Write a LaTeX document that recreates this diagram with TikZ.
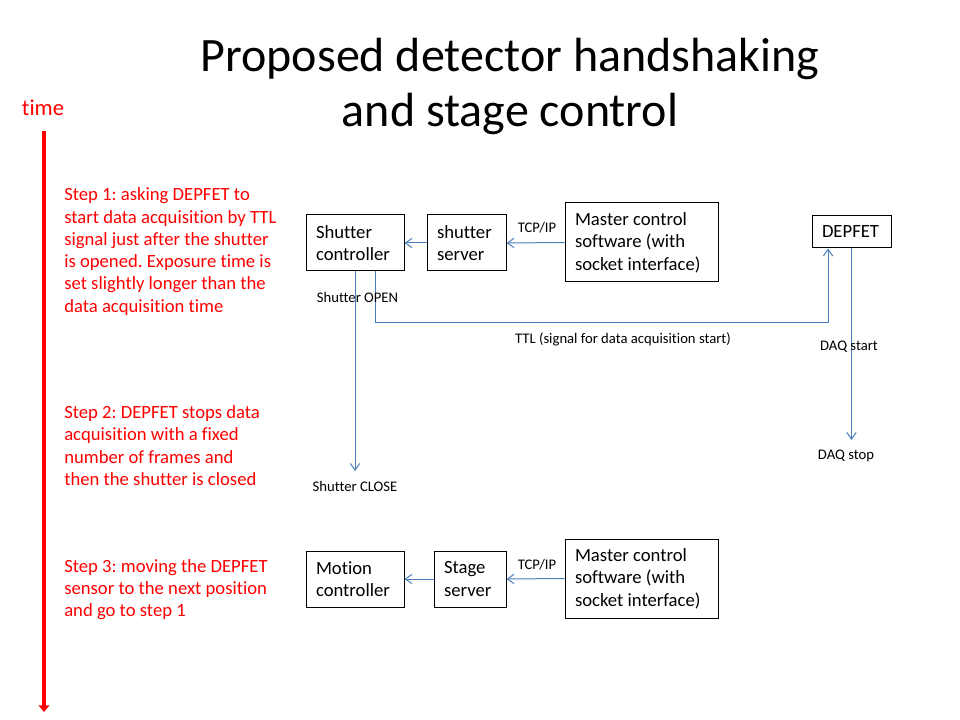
\documentclass[tikz,border=0pt]{standalone}
\usepackage{fontspec}
\setmainfont{Carlito}[Ligatures=NoCommon]
\frenchspacing
\usetikzlibrary{arrows.meta}
\definecolor{conncol}{HTML}{4A7EBB}
\definecolor{stepred}{HTML}{FF0000}
\begin{document}
\begin{tikzpicture}[x=0.75pt,y=-0.75pt,
  box/.style={draw=black,line width=0.75pt,inner xsep=7.5pt,inner ysep=0pt,align=flush left,font=\fontsize{14}{16.8}\selectfont},
  conn/.style={draw=conncol,line width=0.75pt,-{Straight Barb[length=5pt,width=7pt]}},
  lbl/.style={font=\fontsize{11}{13}\selectfont,inner sep=0pt},
  steptext/.style={text=stepred,font=\fontsize{14}{16.7}\selectfont,align=left,anchor=west,inner sep=0pt}]
\useasboundingbox (0,0) rectangle (960,720);
% title
\node[font=\fontsize{36}{41.25}\selectfont,align=center] (title) at (510,86) {Proposed detector handshaking\\and stage control};
% time axis
\node[text=stepred,font=\fontsize{17}{20}\selectfont,inner sep=0pt] (time) at (43,108) {time};
\coordinate (tstart) at (44,131);
\coordinate (tend) at (44,712);
\draw[stepred,line width=3pt,-{Triangle[length=5pt,width=8pt]}] (tstart) -- (tend);
% step texts
\node[steptext] (step1) at (64,251.5) {Step 1: asking DEPFET to\\start data acquisition by TTL\\signal just after the shutter\\is opened. Exposure time is\\set slightly longer than the\\data acquisition time};
\node[steptext] (step2) at (64,445.5) {Step 2: DEPFET stops data\\acquisition with a fixed\\number of frames and\\then the shutter is closed};
\node[steptext] (step3) at (64,589.5) {Step 3: moving the DEPFET\\sensor to the next position\\and go to step 1};
% boxes
\node[box,minimum width=73.5pt,minimum height=42pt,text width=58.5pt] (sc) at (355,243) {Shutter\\controller};
\node[box,minimum width=59.25pt,minimum height=42pt,text width=44.25pt] (ss) at (466.5,243) {shutter\\server};
\node[box,minimum width=114.75pt,minimum height=59.25pt,text width=99.75pt] (m1) at (641.5,242.5) {Master control\\software (with\\socket interface)};
\node[box,minimum width=59.25pt,minimum height=24pt,text width=44.25pt] (dep) at (851.5,232) {DEPFET};
\node[box,minimum width=73.5pt,minimum height=42pt,text width=58.5pt] (mc) at (355,579) {Motion\\controller};
\node[box,minimum width=54pt,minimum height=42pt,text width=39pt] (st) at (470,579) {Stage\\server};
\node[box,minimum width=114.75pt,minimum height=59.25pt,text width=99.75pt] (m2) at (641.5,578.5) {Master control\\software (with\\socket interface)};
% connectors
\draw[conn] (m1.west) -- (ss.east);
\draw[conn] (ss.west) -- (sc.east);
\draw[conn] (m2.west) -- (st.east);
\draw[conn] (st.west) -- (mc.east);
\coordinate (closeend) at (355,471);
\draw[conn] (sc.south) -- (closeend);
\coordinate (ttlc) at (0,322);
\draw[conn] ([xshift=15pt]sc.south) -- ([xshift=15pt]sc.south |- ttlc) -| ([xshift=-17.6pt]dep.south);
\coordinate (daqend) at (851.5,440);
\draw[conn] (dep.south) -- (daqend);
% labels
\node[lbl] (tcp1) at (537,228) {TCP/IP};
\node[lbl] (tcp2) at (537,565) {TCP/IP};
\node[lbl] (sopen) at (357.5,297) {Shutter OPEN};
\node[lbl] (sclose) at (355,486) {Shutter CLOSE};
\node[lbl] (ttl) at (623,339) {TTL (signal for data acquisition start)};
\node[lbl] (daqs) at (849,347) {DAQ start};
\node[lbl] (daqe) at (846,456) {DAQ stop};
\end{tikzpicture}
\end{document}
